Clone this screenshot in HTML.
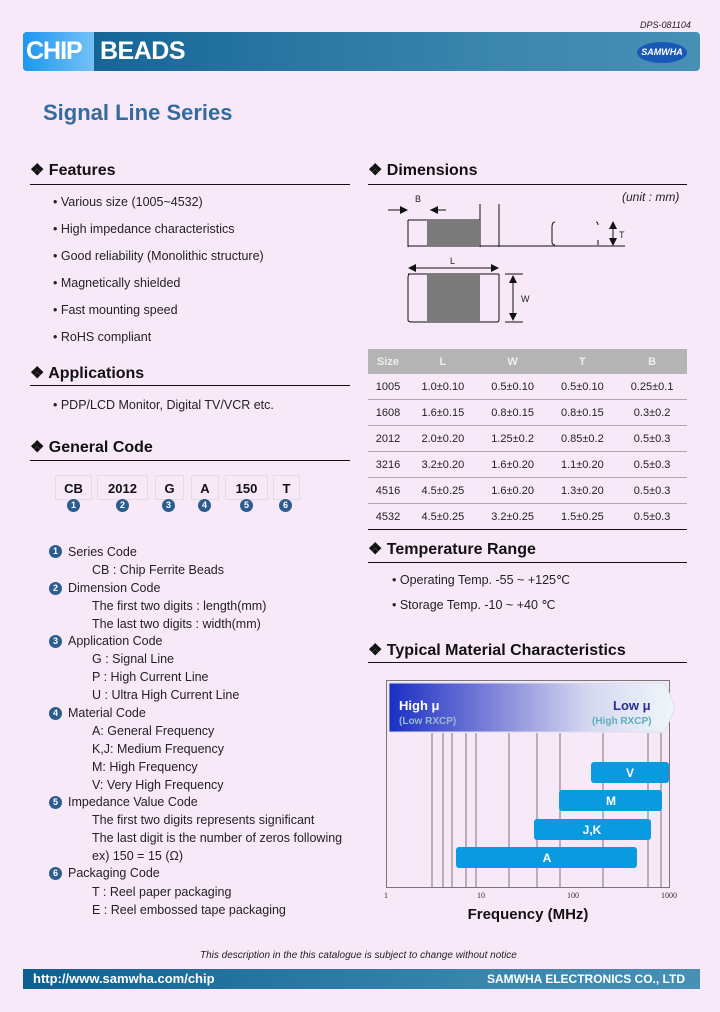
<!DOCTYPE html>
<html><head><meta charset="utf-8"><style>
body{margin:0;width:720px;height:1012px;background:#f8e9f8;position:relative;overflow:hidden;font-family:"Liberation Sans",sans-serif;color:#111}
.a{position:absolute;white-space:nowrap}
.h{font-weight:bold;font-size:16px}
.ln{position:absolute;height:1px;background:#111}
.t{font-size:12.5px;color:#222}
.box{position:absolute;top:475px;height:25px;border:1px solid #e4dce4;font-weight:bold;font-size:13px;text-align:center;line-height:25px;box-sizing:border-box}
.c{position:absolute;width:13px;height:13px;border-radius:50%;background:#2c5d8f;color:#fff;font-size:9px;font-weight:bold;text-align:center;line-height:13px}
td{text-align:center;font-size:11px;height:25px;padding:0;border-bottom:1px solid #aaa;color:#222}
</style></head><body>
<div class="a" style="left:640px;top:20px;font-size:9px;font-style:italic;color:#222">DPS-081104</div>
<div class="a" style="left:23px;top:32px;width:677px;height:39px;border-radius:4px;background:linear-gradient(90deg,#0d5f92,#2a77a3 40%,#3b86ad 70%,#4790b6)"></div>
<div class="a" style="left:23px;top:32px;width:71px;height:39px;border-radius:4px 0 0 4px;background:linear-gradient(90deg,#1e96f0,#74c1f6)"></div>
<div class="a" style="left:26px;top:37px;font-size:25px;font-weight:bold;color:#fff;letter-spacing:-1px">CHIP</div>
<div class="a" style="left:100px;top:37px;font-size:25px;font-weight:bold;color:#fff;letter-spacing:-0.5px">BEADS</div>
<div class="a" style="left:637px;top:42px;width:50px;height:21px;border-radius:50%;background:#1a58b8;color:#fff;font-size:9px;font-weight:bold;text-align:center;line-height:21px;font-style:italic">SAMWHA</div>
<div class="a" style="left:43px;top:100px;font-size:22px;font-weight:bold;color:#356b9c">Signal Line Series</div>

<div class="a h" style="left:30px;top:160px">❖ Features</div><div class="ln" style="left:30px;top:184px;width:320px"></div>
<div class="a t" style="left:53px;top:195px">• Various size (1005~4532)</div>
<div class="a t" style="left:53px;top:222px">• High impedance characteristics</div>
<div class="a t" style="left:53px;top:249px">• Good reliability (Monolithic structure)</div>
<div class="a t" style="left:53px;top:276px">• Magnetically shielded</div>
<div class="a t" style="left:53px;top:303px">• Fast mounting speed</div>
<div class="a t" style="left:53px;top:330px">• RoHS compliant</div>
<div class="a h" style="left:30px;top:363px">❖ Applications</div><div class="ln" style="left:30px;top:385px;width:320px"></div>
<div class="a t" style="left:53px;top:398px">• PDP/LCD Monitor, Digital TV/VCR etc.</div>
<div class="a h" style="left:30px;top:437px">❖ General Code</div><div class="ln" style="left:30px;top:460px;width:320px"></div>
<div class="box" style="left:55px;width:37px">CB</div><div class="box" style="left:97px;width:51px">2012</div><div class="box" style="left:155px;width:29px">G</div><div class="box" style="left:191px;width:28px">A</div><div class="box" style="left:225px;width:43px">150</div><div class="box" style="left:273px;width:27px">T</div>
<div class="c" style="left:67px;top:499px">1</div><div class="c" style="left:116px;top:499px">2</div><div class="c" style="left:162px;top:499px">3</div><div class="c" style="left:198px;top:499px">4</div><div class="c" style="left:240px;top:499px">5</div><div class="c" style="left:279px;top:499px">6</div>
<div class="c" style="left:49px;top:545px">1</div><div class="a t" style="left:68px;top:545px">Series Code</div>
<div class="a t" style="left:92px;top:563px">CB : Chip Ferrite Beads</div>
<div class="c" style="left:49px;top:582px">2</div><div class="a t" style="left:68px;top:581px">Dimension Code</div>
<div class="a t" style="left:92px;top:599px">The first two digits : length(mm)</div>
<div class="a t" style="left:92px;top:617px">The last two digits : width(mm)</div>
<div class="c" style="left:49px;top:635px">3</div><div class="a t" style="left:68px;top:634px">Application Code</div>
<div class="a t" style="left:92px;top:652px">G : Signal Line</div>
<div class="a t" style="left:92px;top:670px">P : High Current Line</div>
<div class="a t" style="left:92px;top:688px">U : Ultra High Current Line</div>
<div class="c" style="left:49px;top:707px">4</div><div class="a t" style="left:68px;top:706px">Material Code</div>
<div class="a t" style="left:92px;top:724px">A: General Frequency</div>
<div class="a t" style="left:92px;top:742px">K,J: Medium Frequency</div>
<div class="a t" style="left:92px;top:760px">M: High Frequency</div>
<div class="a t" style="left:92px;top:778px">V: Very High Frequency</div>
<div class="c" style="left:49px;top:796px">5</div><div class="a t" style="left:68px;top:795px">Impedance Value Code</div>
<div class="a t" style="left:92px;top:813px">The first two digits represents significant</div>
<div class="a t" style="left:92px;top:831px">The last digit is the number of zeros following</div>
<div class="a t" style="left:92px;top:849px">ex) 150 = 15 (Ω)</div>
<div class="c" style="left:49px;top:867px">6</div><div class="a t" style="left:68px;top:866px">Packaging Code</div>
<div class="a t" style="left:92px;top:885px">T : Reel paper packaging</div>
<div class="a t" style="left:92px;top:903px">E : Reel embossed tape packaging</div>

<div class="a h" style="left:368px;top:160px">❖ Dimensions</div><div class="ln" style="left:368px;top:184px;width:319px"></div>
<div class="a" style="left:622px;top:190px;font-size:12px;font-style:italic;color:#222">(unit : mm)</div>
<svg class="a" style="left:360px;top:180px" width="340" height="150">
<g stroke="#111" fill="none" stroke-width="1">
<line x1="48" y1="40" x2="48" y2="67"/><line x1="120" y1="24" x2="120" y2="67"/><line x1="139" y1="24" x2="139" y2="67"/>
<line x1="48" y1="66" x2="265" y2="66"/>
<line x1="28" y1="30" x2="46" y2="30"/><line x1="70" y1="30" x2="86" y2="30"/>
<path d="M195 42 Q192 42 192 47 V62 Q192 65 195 65"/><path d="M236 42 Q238 42 238 45"/><line x1="238" y1="60" x2="238" y2="65"/>
<line x1="253" y1="45" x2="253" y2="64"/><line x1="243" y1="66" x2="265" y2="66"/>
<line x1="50" y1="88" x2="138" y2="88"/>
<path d="M50 94 Q48 94 48 98 V140 Q48 142 52 142 H137 Q139 142 139 140 V94"/>
<line x1="48" y1="94" x2="139" y2="94"/>
<line x1="145" y1="94" x2="163" y2="94"/><line x1="145" y1="142" x2="163" y2="142"/><line x1="153" y1="98" x2="153" y2="138"/>
<path d="M48 40 H120"/>
</g>
<rect x="67" y="40" width="53" height="26" fill="#7a7a7a"/>
<rect x="67" y="94" width="53" height="48" fill="#7a7a7a"/>
<g fill="#111"><path d="M48 30 l-8 -4 v8z"/><path d="M70 30 l8 -4 v8z"/><path d="M253 41 l-4 8 h8z"/><path d="M253 66 l-4 -8 h8z"/><path d="M48 88 l8 -4 v8z"/><path d="M139 88 l-8 -4 v8z"/><path d="M153 95 l-4 8 h8z"/><path d="M153 141 l-4 -8 h8z"/></g>
<g font-size="9" fill="#222" font-family="Liberation Sans"><text x="55" y="22">B</text><text x="90" y="84">L</text><text x="161" y="122">W</text><text x="259" y="58">T</text></g>
</svg>
<table class="a" style="left:368px;top:349px;width:319px;border-collapse:collapse;border-bottom:1px solid #111">
<tr style="background:#b4b4b4"><td style="color:#eee;font-weight:bold;border:0">Size</td><td style="color:#eee;font-weight:bold;border:0">L</td><td style="color:#eee;font-weight:bold;border:0">W</td><td style="color:#eee;font-weight:bold;border:0">T</td><td style="color:#eee;font-weight:bold;border:0">B</td></tr>
<tr><td>1005</td><td>1.0±0.10</td><td>0.5±0.10</td><td>0.5±0.10</td><td>0.25±0.1</td></tr>
<tr><td>1608</td><td>1.6±0.15</td><td>0.8±0.15</td><td>0.8±0.15</td><td>0.3±0.2</td></tr>
<tr><td>2012</td><td>2.0±0.20</td><td>1.25±0.2</td><td>0.85±0.2</td><td>0.5±0.3</td></tr>
<tr><td>3216</td><td>3.2±0.20</td><td>1.6±0.20</td><td>1.1±0.20</td><td>0.5±0.3</td></tr>
<tr><td>4516</td><td>4.5±0.25</td><td>1.6±0.20</td><td>1.3±0.20</td><td>0.5±0.3</td></tr>
<tr><td style="border:0">4532</td><td style="border:0">4.5±0.25</td><td style="border:0">3.2±0.25</td><td style="border:0">1.5±0.25</td><td style="border:0">0.5±0.3</td></tr>
</table>

<div class="a h" style="left:368px;top:539px">❖ Temperature Range</div><div class="ln" style="left:368px;top:562px;width:319px"></div>
<div class="a t" style="left:392px;top:572px">• Operating Temp.  -55 ~ +125℃</div>
<div class="a t" style="left:392px;top:597px">• Storage Temp.  -10 ~ +40 ℃</div>
<div class="a h" style="left:368px;top:640px">❖ Typical Material Characteristics</div><div class="ln" style="left:368px;top:662px;width:319px"></div>

<svg class="a" style="left:380px;top:676px" width="310" height="250">
<defs><linearGradient id="g" x1="0" x2="1"><stop offset="0" stop-color="#1a2fc4"/><stop offset="0.35" stop-color="#7b80d8"/><stop offset="0.7" stop-color="#d6d8f0"/><stop offset="1" stop-color="#f0f6fb"/></linearGradient></defs>
<rect x="6.5" y="4.5" width="283" height="207" fill="none" stroke="#777"/>
<g stroke="#777"><line x1="52" y1="57" x2="52" y2="211"/><line x1="63" y1="57" x2="63" y2="211"/><line x1="72" y1="57" x2="72" y2="211"/><line x1="86" y1="57" x2="86" y2="211"/><line x1="96" y1="57" x2="96" y2="211"/><line x1="129" y1="57" x2="129" y2="211"/><line x1="157" y1="57" x2="157" y2="211"/><line x1="180" y1="57" x2="180" y2="211"/><line x1="223" y1="57" x2="223" y2="211"/><line x1="268" y1="57" x2="268" y2="211"/><line x1="281" y1="57" x2="281" y2="211"/></g>
<path d="M9 7 H285 L295 31 L285 56 H9Z" fill="url(#g)" stroke="#dde" />
<text x="19" y="34" font-size="13" font-weight="bold" fill="#fff" font-family="Liberation Sans">High μ</text>
<text x="19" y="48" font-size="10" font-weight="bold" fill="#9bc" font-family="Liberation Sans">(Low RXCP)</text>
<text x="233" y="34" font-size="13" font-weight="bold" fill="#2a2f90" font-family="Liberation Sans">Low μ</text>
<text x="212" y="48" font-size="10" font-weight="bold" fill="#5ab0b8" font-family="Liberation Sans">(High RXCP)</text>
<g fill="#0a9ae0"><rect x="211" y="86" width="78" height="21" rx="3"/><rect x="179" y="114" width="103" height="21" rx="3"/><rect x="154" y="143" width="117" height="21" rx="3"/><rect x="76" y="171" width="181" height="21" rx="3"/></g>
<g fill="#fff" font-size="12" font-weight="bold" font-family="Liberation Sans" text-anchor="middle"><text x="250" y="101">V</text><text x="231" y="129">M</text><text x="212" y="158">J,K</text><text x="167" y="186">A</text></g>
<g font-size="8" fill="#333" font-family="Liberation Serif" text-anchor="middle"><text x="6" y="222">1</text><text x="101" y="222">10</text><text x="193" y="222">100</text><text x="289" y="222">1000</text></g>
<text x="148" y="243" font-size="15" font-weight="bold" fill="#111" text-anchor="middle" font-family="Liberation Sans">Frequency (MHz)</text>
</svg>

<div class="a" style="left:200px;top:950px;font-size:10px;font-style:italic;color:#222">This description in the this catalogue is subject to change without notice</div>
<div class="a" style="left:23px;top:969px;width:677px;height:20px;background:linear-gradient(90deg,#0d5f92,#2a77a3 40%,#3b86ad 70%,#4790b6)"></div>
<div class="a" style="left:33px;top:971px;font-size:13px;font-weight:bold;color:#fff">http://www.samwha.com/chip</div>
<div class="a" style="left:487px;top:972px;font-size:12px;font-weight:bold;color:#fff">SAMWHA ELECTRONICS CO., LTD</div>
</body></html>
